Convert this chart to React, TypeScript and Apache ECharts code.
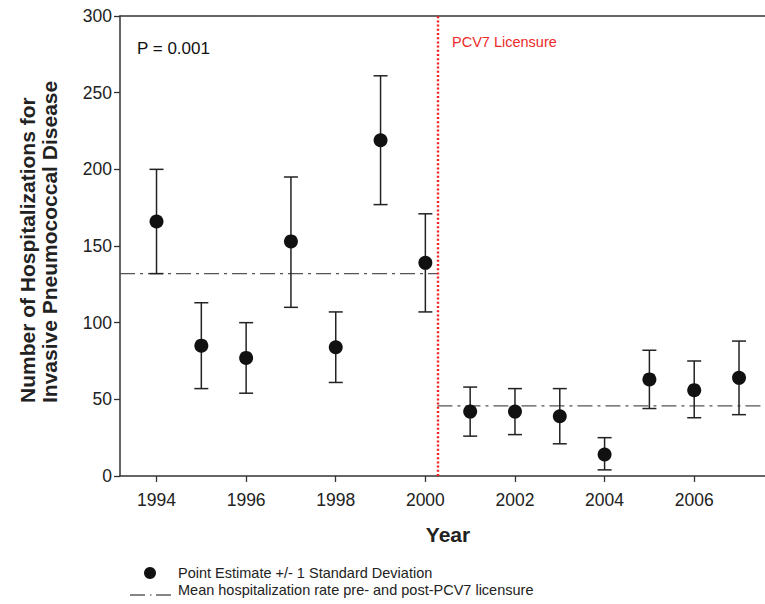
import React, { useEffect, useRef } from "react";
import * as echarts from "echarts";

const years = [1994, 1995, 1996, 1997, 1998, 1999, 2000, 2001, 2002, 2003, 2004, 2005, 2006, 2007];
const estimates = [166, 85, 77, 153, 84, 219, 139, 42, 42, 39, 14, 63, 56, 64];
const lowerSD = [132, 57, 54, 110, 61, 177, 107, 26, 27, 21, 4, 44, 38, 40];
const upperSD = [200, 113, 100, 195, 107, 261, 171, 58, 57, 57, 25, 82, 75, 88];
const tickYears = [1994, 1996, 1998, 2000, 2002, 2004, 2006];
const preMean = 132;
const postMean = 45.7;
const licensureYear = 2000.27;
const xMin = 1993.185;
const xMax = 2007.58;

const FONT = "'Liberation Sans', Arial, Helvetica, sans-serif";

export default function App() {
  const ref = useRef<HTMLDivElement>(null);
  useEffect(() => {
    if (!ref.current) return;
    const chart = echarts.init(ref.current, null, { renderer: "svg" });
    const axisColor = "#333";
    const option: any = {
      animation: false,
      backgroundColor: "#fff",
      grid: { left: 120, right: 0, top: 16, bottom: 128 },
      xAxis: [
        {
          type: "value",
          min: xMin,
          max: xMax,
          axisLine: { show: true, onZero: false, lineStyle: { color: axisColor, width: 1.5 } },
          axisTick: { show: true, length: 6, customValues: tickYears, lineStyle: { color: axisColor, width: 1.3 } },
          axisLabel: {
            customValues: tickYears,
            formatter: (v: number) => String(v),
            fontSize: 17.5,
            color: "#222",
            margin: 15,
            fontFamily: FONT,
          },
          splitLine: { show: false },
        },
        {
          type: "value",
          position: "top",
          min: xMin,
          max: xMax,
          axisLine: { show: true, onZero: false, lineStyle: { color: axisColor, width: 1.5 } },
          axisTick: { show: false },
          axisLabel: { show: false },
          splitLine: { show: false },
        },
      ],
      yAxis: {
        type: "value",
        min: 0,
        max: 300,
        interval: 50,
        axisLine: { show: true, lineStyle: { color: axisColor, width: 1.5 } },
        axisTick: { show: true, length: 6, lineStyle: { color: axisColor, width: 1.3 } },
        axisLabel: { fontSize: 17.5, color: "#222", margin: 8, fontFamily: FONT },
        splitLine: { show: false },
      },
      series: [
        {
          type: "line",
          data: [[xMin, preMean], [licensureYear, preMean]],
          symbol: "none",
          lineStyle: { color: "#555", width: 1.2, type: [15, 5, 3, 5] },
          z: 1,
        },
        {
          type: "line",
          data: [[licensureYear, postMean], [xMax, postMean]],
          symbol: "none",
          lineStyle: { color: "#555", width: 1.2, type: [15, 5, 3, 5] },
          z: 1,
          markLine: {
            silent: true,
            symbol: "none",
            label: { show: false },
            lineStyle: { color: "#f02020", width: 2.4, type: [2, 2.2], opacity: 1 },
            data: [{ xAxis: licensureYear }],
          },
        },
        {
          type: "custom",
          data: years.map((y, i) => [y, lowerSD[i], upperSD[i]]),
          encode: { x: 0, y: [1, 2] },
          z: 3,
          renderItem: (params: any, api: any) => {
            const x = api.value(0);
            const lo = api.coord([x, api.value(1)]);
            const hi = api.coord([x, api.value(2)]);
            const hw = 7;
            const style = { stroke: "#222", lineWidth: 1.5 };
            return {
              type: "group",
              children: [
                { type: "line", shape: { x1: lo[0], y1: lo[1], x2: hi[0], y2: hi[1] }, style },
                { type: "line", shape: { x1: lo[0] - hw, y1: lo[1], x2: lo[0] + hw, y2: lo[1] }, style },
                { type: "line", shape: { x1: hi[0] - hw, y1: hi[1], x2: hi[0] + hw, y2: hi[1] }, style },
              ],
            };
          },
        },
        {
          type: "scatter",
          data: years.map((y, i) => [y, estimates[i]]),
          symbol: "circle",
          symbolSize: 14,
          itemStyle: { color: "#111", opacity: 1 },
          z: 4,
        },
      ],
      graphic: [
        {
          type: "text",
          left: 137,
          top: 40,
          style: { text: "P = 0.001", fontSize: 17, fill: "#111", fontFamily: FONT },
        },
        {
          type: "text",
          x: 452,
          y: 42,
          style: { text: "PCV7 Licensure", fontSize: 14.5, fill: "#ee2a2a", fontFamily: FONT, textVerticalAlign: "middle" },
        },
        {
          type: "text",
          x: 448,
          y: 534,
          style: { text: "Year", fontSize: 21, fontWeight: "bold", fill: "#222", fontFamily: FONT, textAlign: "center", textVerticalAlign: "middle" },
        },
        {
          type: "text",
          x: 27.5,
          y: 403,
          rotation: Math.PI / 2,
          style: { text: "Number of Hospitalizations for", fontSize: 21, fontWeight: "bold", fill: "#222", fontFamily: FONT, textAlign: "left", textVerticalAlign: "middle" },
        },
        {
          type: "text",
          x: 49.5,
          y: 403,
          rotation: Math.PI / 2,
          style: { text: "Invasive Pneumococcal Disease", fontSize: 21, fontWeight: "bold", fill: "#222", fontFamily: FONT, textAlign: "left", textVerticalAlign: "middle" },
        },
        {
          type: "circle",
          shape: { cx: 150, cy: 573, r: 6 },
          style: { fill: "#111" },
        },
        {
          type: "text",
          x: 178,
          y: 573,
          style: { text: "Point Estimate +/- 1 Standard Deviation", fontSize: 14.5, fill: "#222", fontFamily: FONT, textVerticalAlign: "middle" },
        },
        { type: "line", shape: { x1: 130, y1: 595, x2: 145, y2: 595 }, style: { stroke: "#333", lineWidth: 1.2 } },
        { type: "line", shape: { x1: 150, y1: 595, x2: 151.5, y2: 595 }, style: { stroke: "#333", lineWidth: 1.2 } },
        { type: "line", shape: { x1: 156, y1: 595, x2: 171, y2: 595 }, style: { stroke: "#333", lineWidth: 1.2 } },
        {
          type: "text",
          x: 178,
          y: 590,
          style: { text: "Mean hospitalization rate pre- and post-PCV7 licensure", fontSize: 14.5, fill: "#222", fontFamily: FONT, textVerticalAlign: "middle" },
        },
      ],
    };
    chart.setOption(option);
    return () => chart.dispose();
  }, []);
  return (
    <div
      ref={ref}
      style={{ position: "fixed", left: 0, top: 0, width: 765, height: 604, background: "#fff" }}
    />
  );
}
